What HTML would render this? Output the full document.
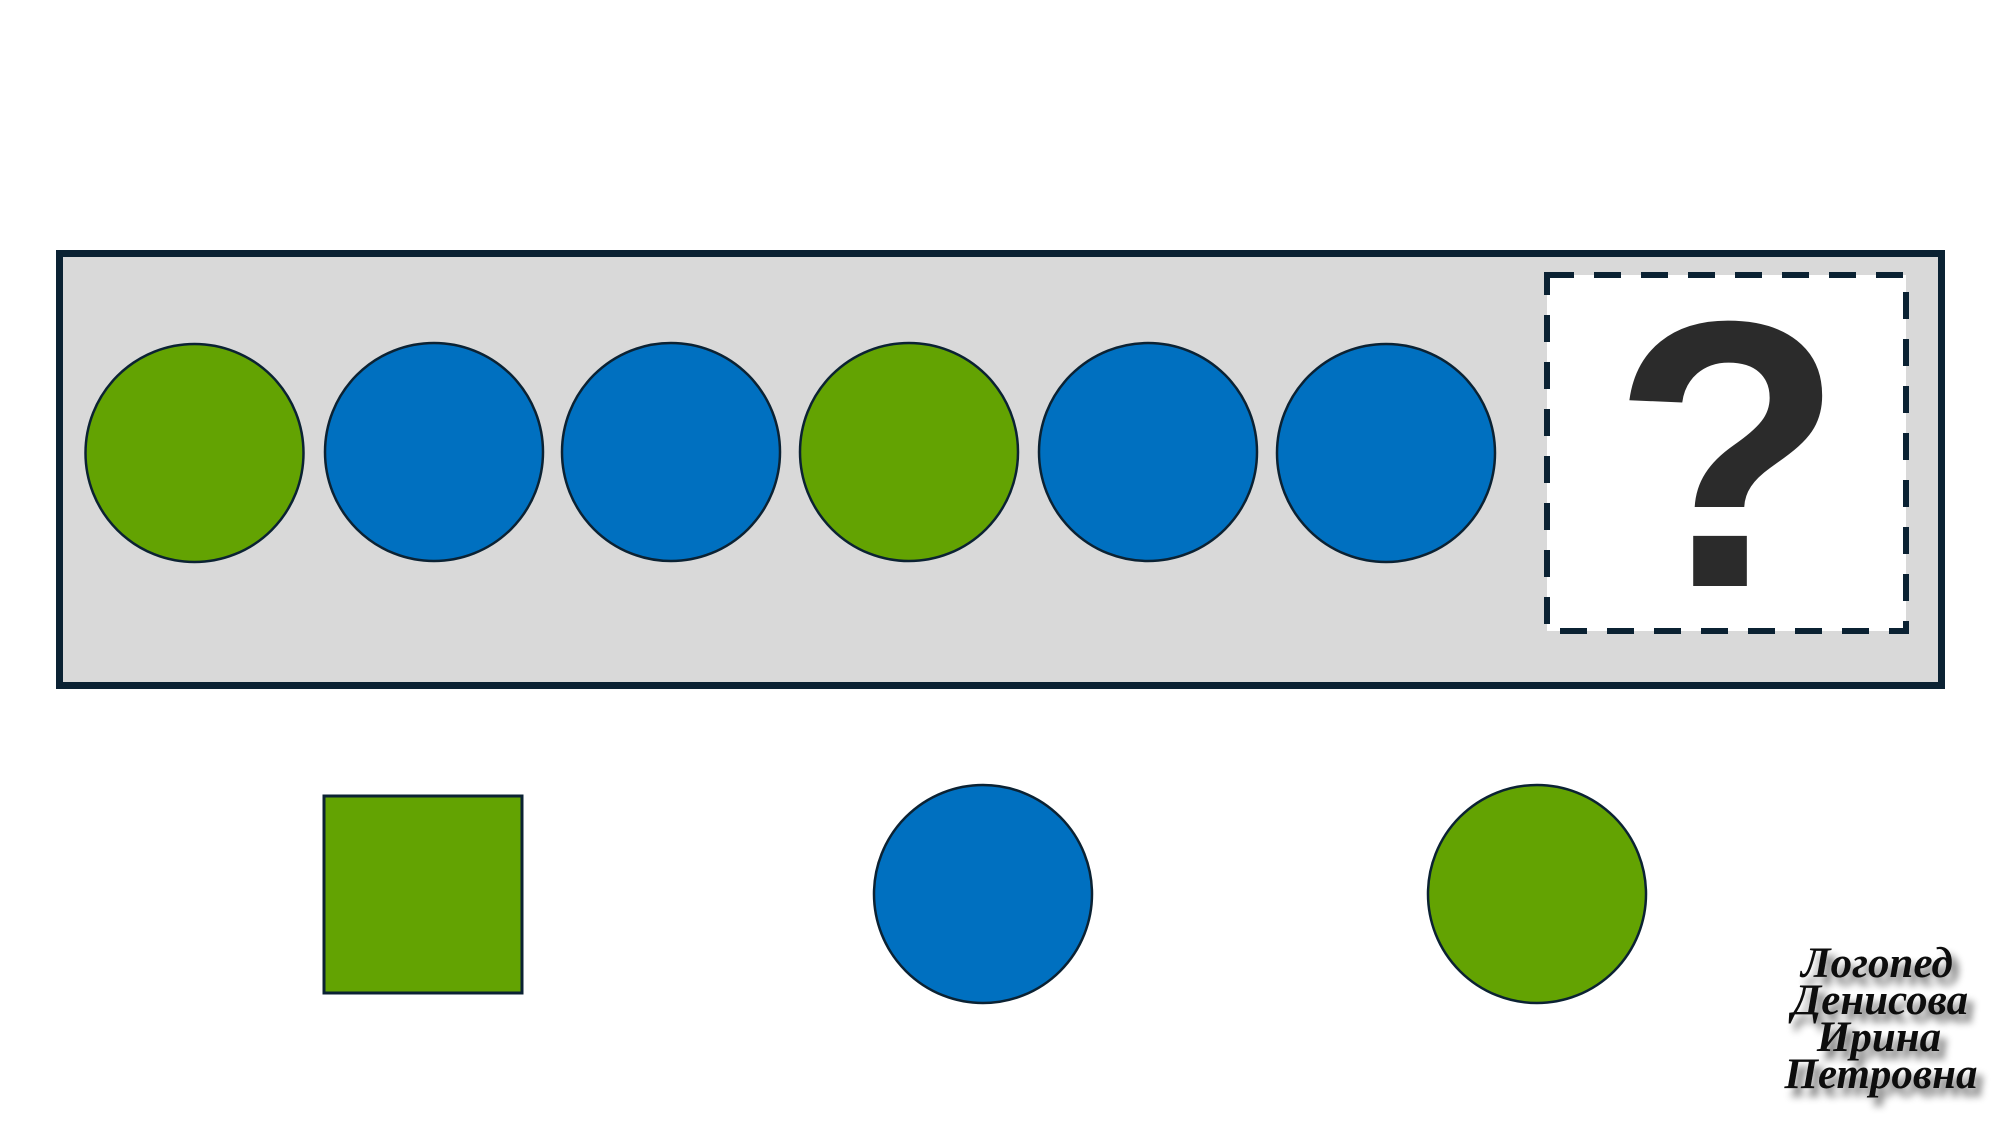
<!DOCTYPE html>
<html><head><meta charset="utf-8"><style>
html,body{margin:0;padding:0;background:#fff;width:2000px;height:1125px;overflow:hidden}
</style></head><body>
<svg width="2000" height="1125" xmlns="http://www.w3.org/2000/svg" style="position:absolute;left:0;top:0">
<defs><filter id="sh" x="-20%" y="-20%" width="150%" height="160%"><feGaussianBlur in="SourceAlpha" stdDeviation="4"/><feOffset dx="6" dy="8"/><feComponentTransfer><feFuncA type="linear" slope="0.6"/></feComponentTransfer><feMerge><feMergeNode/><feMergeNode in="SourceGraphic"/></feMerge></filter></defs>
<rect x="59.5" y="253.5" width="1882" height="432" fill="#d9d9d9" stroke="#0b2233" stroke-width="7"/>
<g stroke="#0b2233" stroke-width="2.5">
<circle cx="194.5" cy="453" r="109" fill="#63a302"/>
<circle cx="434" cy="452" r="109" fill="#0070c0"/>
<circle cx="671" cy="452" r="109" fill="#0070c0"/>
<circle cx="909" cy="452" r="109" fill="#63a302"/>
<circle cx="1148" cy="452" r="109" fill="#0070c0"/>
<circle cx="1386" cy="453" r="109" fill="#0070c0"/>
</g>
<rect x="1547" y="275" width="359" height="356" fill="#fff" stroke="#0b2233" stroke-width="6" stroke-dasharray="27,20"/>
<text x="1728" y="586" font-family="Liberation Sans, sans-serif" font-weight="bold" font-size="380" text-anchor="middle" fill="#2b2b2b">?</text>
<rect x="324" y="796" width="198" height="197" fill="#63a302" stroke="#0b2233" stroke-width="3"/>
<circle cx="983" cy="894" r="109" fill="#0070c0" stroke="#0b2233" stroke-width="2.5"/>
<circle cx="1537" cy="894" r="109" fill="#63a302" stroke="#0b2233" stroke-width="2.5"/>
<g font-family="Liberation Serif, serif" font-style="italic" font-weight="bold" font-size="43" text-anchor="middle" fill="#111" filter="url(#sh)">
<text x="1877" y="977">Логопед</text>
<text x="1880" y="1014">Денисова</text>
<text x="1879" y="1051">Ирина</text>
<text x="1881" y="1088">Петровна</text>
</g>
</svg>
</body></html>
